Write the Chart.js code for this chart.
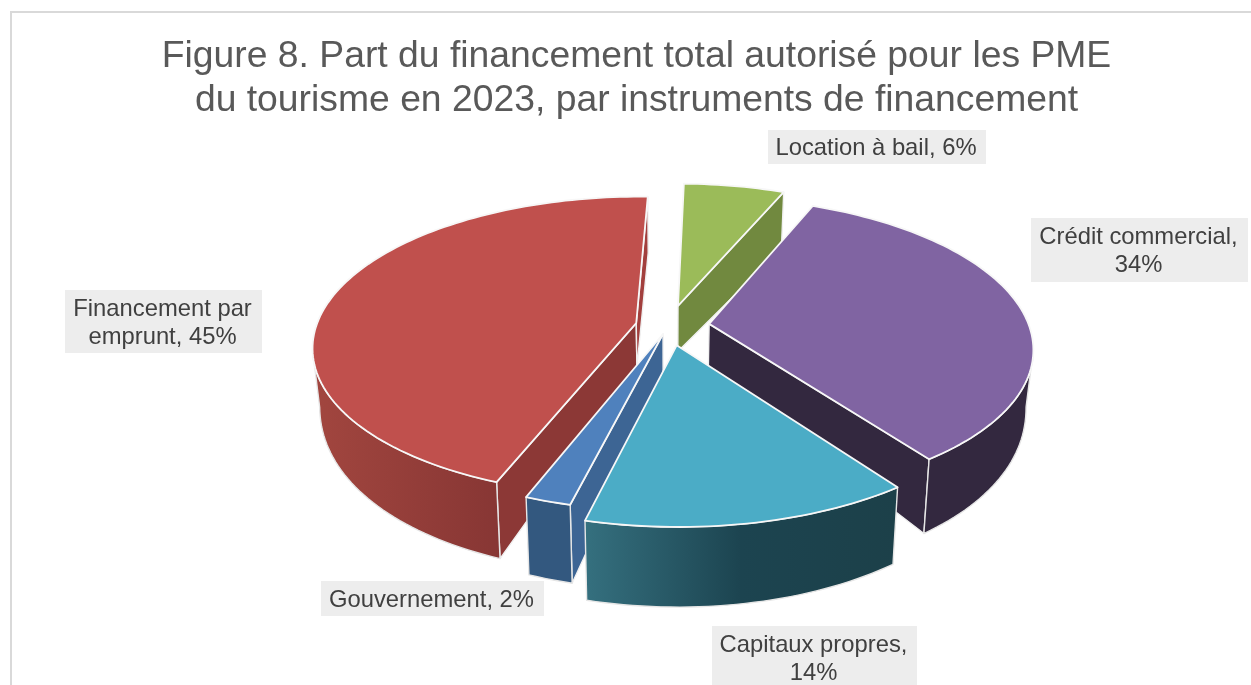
<!DOCTYPE html>
<html lang="fr">
<head>
<meta charset="utf-8">
<title>Figure 8</title>
<script src="https://cdn.jsdelivr.net/npm/chart.js@4"></script>
<style>
	html, body { margin: 0; padding: 0; background: #fff; overflow: hidden; width: 1251px; height: 685px; }
	#frame { position: absolute; left: 10px; top: 11px; width: 1241px; height: 674px; border-left: 2px solid #d9d9d9; border-top: 2px solid #d9d9d9; overflow: hidden; }
	canvas { display: block; }
</style>
</head>
<body>
<div id="frame"><canvas id="pie3d" width="1249" height="672"></canvas></div>
<script>
'use strict';

const titleLines = ['Figure 8. Part du financement total autorisé pour les PME', 'du tourisme en 2023, par instruments de financement'];
const categories = ['Location à bail', 'Crédit commercial', 'Capitaux propres', 'Gouvernement', 'Financement par emprunt'];
const shares = [6, 34, 14, 2, 45];
const explode = [46, 41, 42, 18, 33];

const topColors = ['#9bbb59', '#8064a2', '#4bacc6', '#4f81bd', '#c0504d'];
const startWallColors = ['#71893f', '#33283f', '#1c4049', '#3d6594', '#8c3836'];
const endWallColors = ['#71893f', '#33283f', '#1c4049', '#3d6594', '#a23f3d'];
const rimColors = [
	['#71893f', '#71893f'],
	['#33283f', '#33283f'],
	['#35707f', '#1c4450', '#1c4049'],
	['#33587f', '#33587f'],
	['#a2463f', '#873634'],
];

// label boxes, in canvas pixels
const labelBoxes = [
	{ x: 756, y: 117, w: 218, h: 34 },
	{ x: 1019, y: 205, w: 217, h: 64 },
	{ x: 700, y: 613, w: 205, h: 64 },
	{ x: 309, y: 568, w: 223, h: 35 },
	{ x: 53, y: 277, w: 197, h: 63 },
];

// fitted to the tilted view of the reference
const PIE_R = 320;
const SQUASH = 0.459;
const PERSP = 0.155;
const TAPER = 0.02;
const SHIFT_X = 32;

const wallHeight = function (ny) {
	return ny > 0 ? 44 + 34 * Math.sqrt(ny) : 44 - 12 * ny;
};

const project = function (arc, nx, ny, z) {
	const w = 1 / (1 - PERSP * ny);
	return {
		x: arc.x + SHIFT_X + PIE_R * nx * w * (1 - TAPER * z),
		y: arc.y + PIE_R * SQUASH * ny * w + z * wallHeight(ny),
	};
};

const tracePath = function (ctx, pts) {
	ctx.beginPath();
	pts.forEach((p, i) => (i ? ctx.lineTo(p.x, p.y) : ctx.moveTo(p.x, p.y)));
	ctx.closePath();
};

const drawFace = function (ctx, pts, fill, edge, width) {
	tracePath(ctx, pts);
	ctx.fillStyle = fill;
	ctx.fill();
	ctx.strokeStyle = edge;
	ctx.lineWidth = width;
	ctx.lineJoin = 'round';
	ctx.stroke();
};

const drawSlice = function (ctx, arc, i) {
	const mid = (arc.startAngle + arc.endAngle) / 2;
	const e = arc.options.offset / PIE_R;
	const ox = e * Math.cos(mid);
	const oy = e * Math.sin(mid);

	const steps = Math.max(4, Math.ceil((arc.endAngle - arc.startAngle) * 40));
	const rim = [];
	for (let s = 0; s <= steps; s++) {
		const a = arc.startAngle + (arc.endAngle - arc.startAngle) * s / steps;
		rim.push({ nx: ox + Math.cos(a), ny: oy + Math.sin(a) });
	}
	const up = (p) => project(arc, p.nx, p.ny, 0);
	const down = (p) => project(arc, p.nx, p.ny, 1);
	const apex = { nx: ox, ny: oy };
	const first = rim[0];
	const last = rim[rim.length - 1];

	// only the faces turned towards the viewer
	if (up(first).x < up(apex).x) {
		drawFace(ctx, [up(apex), up(first), down(first), down(apex)], startWallColors[i], '#f0f0f0', 1.4);
	}
	if (up(apex).x < up(last).x) {
		drawFace(ctx, [up(last), up(apex), down(apex), down(last)], endWallColors[i], '#f0f0f0', 1.4);
	}

	let run = [];
	const flush = function () {
		if (run.length > 1) {
			const face = run.map(up).concat(run.slice().reverse().map(down));
			const xs = face.map((p) => p.x);
			const grad = ctx.createLinearGradient(Math.min(...xs), 0, Math.max(...xs), 0);
			rimColors[i].forEach((c, n) => grad.addColorStop(n / (rimColors[i].length - 1), c));
			drawFace(ctx, face, grad, '#e6e6e6', 1.4);
		}
		run = [];
	};
	for (let s = 0; s < rim.length - 1; s++) {
		if (up(rim[s + 1]).x < up(rim[s]).x) {
			if (!run.length) run.push(rim[s]);
			run.push(rim[s + 1]);
		} else {
			flush();
		}
	}
	flush();

	drawFace(ctx, [up(apex)].concat(rim.map(up)), topColors[i], '#f7f7f7', 1.8);
};

const wrapText = function (ctx, text, maxWidth) {
	const lines = [];
	let line = '';
	text.split(' ').forEach((word) => {
		const next = line ? line + ' ' + word : word;
		if (line && ctx.measureText(next).width > maxWidth) {
			lines.push(line);
			line = word;
		} else {
			line = next;
		}
	});
	lines.push(line);
	return lines;
};

const pie3dPlugin = {
	id: 'pie3d',
	beforeDatasetDraw(chart, args) {
		const ctx = chart.ctx;
		const arcs = args.meta.data;
		const depthOrder = arcs
			.map((arc, i) => ({ arc, i, d: Math.sin((arc.startAngle + arc.endAngle) / 2) }))
			.sort((a, b) => a.d - b.d);
		ctx.save();
		depthOrder.forEach((s) => drawSlice(ctx, s.arc, s.i));
		ctx.restore();
		return false;
	},
	afterDraw(chart) {
		const ctx = chart.ctx;
		ctx.save();
		ctx.font = '23.8px "Liberation Sans", Arial, sans-serif';
		ctx.textAlign = 'center';
		ctx.textBaseline = 'alphabetic';
		categories.forEach((name, i) => {
			const box = labelBoxes[i];
			ctx.fillStyle = '#ededed';
			ctx.fillRect(box.x, box.y, box.w, box.h);
			ctx.fillStyle = '#404040';
			const lines = wrapText(ctx, name + ', ' + shares[i] + '%', box.w - 12);
			lines.forEach((line, n) => {
				const base = box.y + box.h / 2 + 8 + (n - (lines.length - 1) / 2) * 28;
				ctx.fillText(line, box.x + box.w / 2 - 1, base);
			});
		});
		ctx.restore();
	},
};

new Chart(document.getElementById('pie3d'), {
	type: 'pie',
	data: {
		labels: categories,
		datasets: [
			{
				data: shares,
				offset: explode,
				backgroundColor: topColors,
				borderColor: '#ffffff',
			},
		],
	},
	options: {
		responsive: false,
		animation: false,
		rotation: 1.5,
		layout: {
			padding: { bottom: 164 },
		},
		plugins: {
			legend: { display: false },
			tooltip: { enabled: false },
			title: {
				display: true,
				text: titleLines,
				color: '#595959',
				font: { family: '"Liberation Sans", Arial, sans-serif', size: 37.3, weight: 'normal', lineHeight: 1.18 },
				padding: { top: 22, bottom: 8 },
			},
		},
	},
	plugins: [pie3dPlugin],
});
</script>
</body>
</html>
